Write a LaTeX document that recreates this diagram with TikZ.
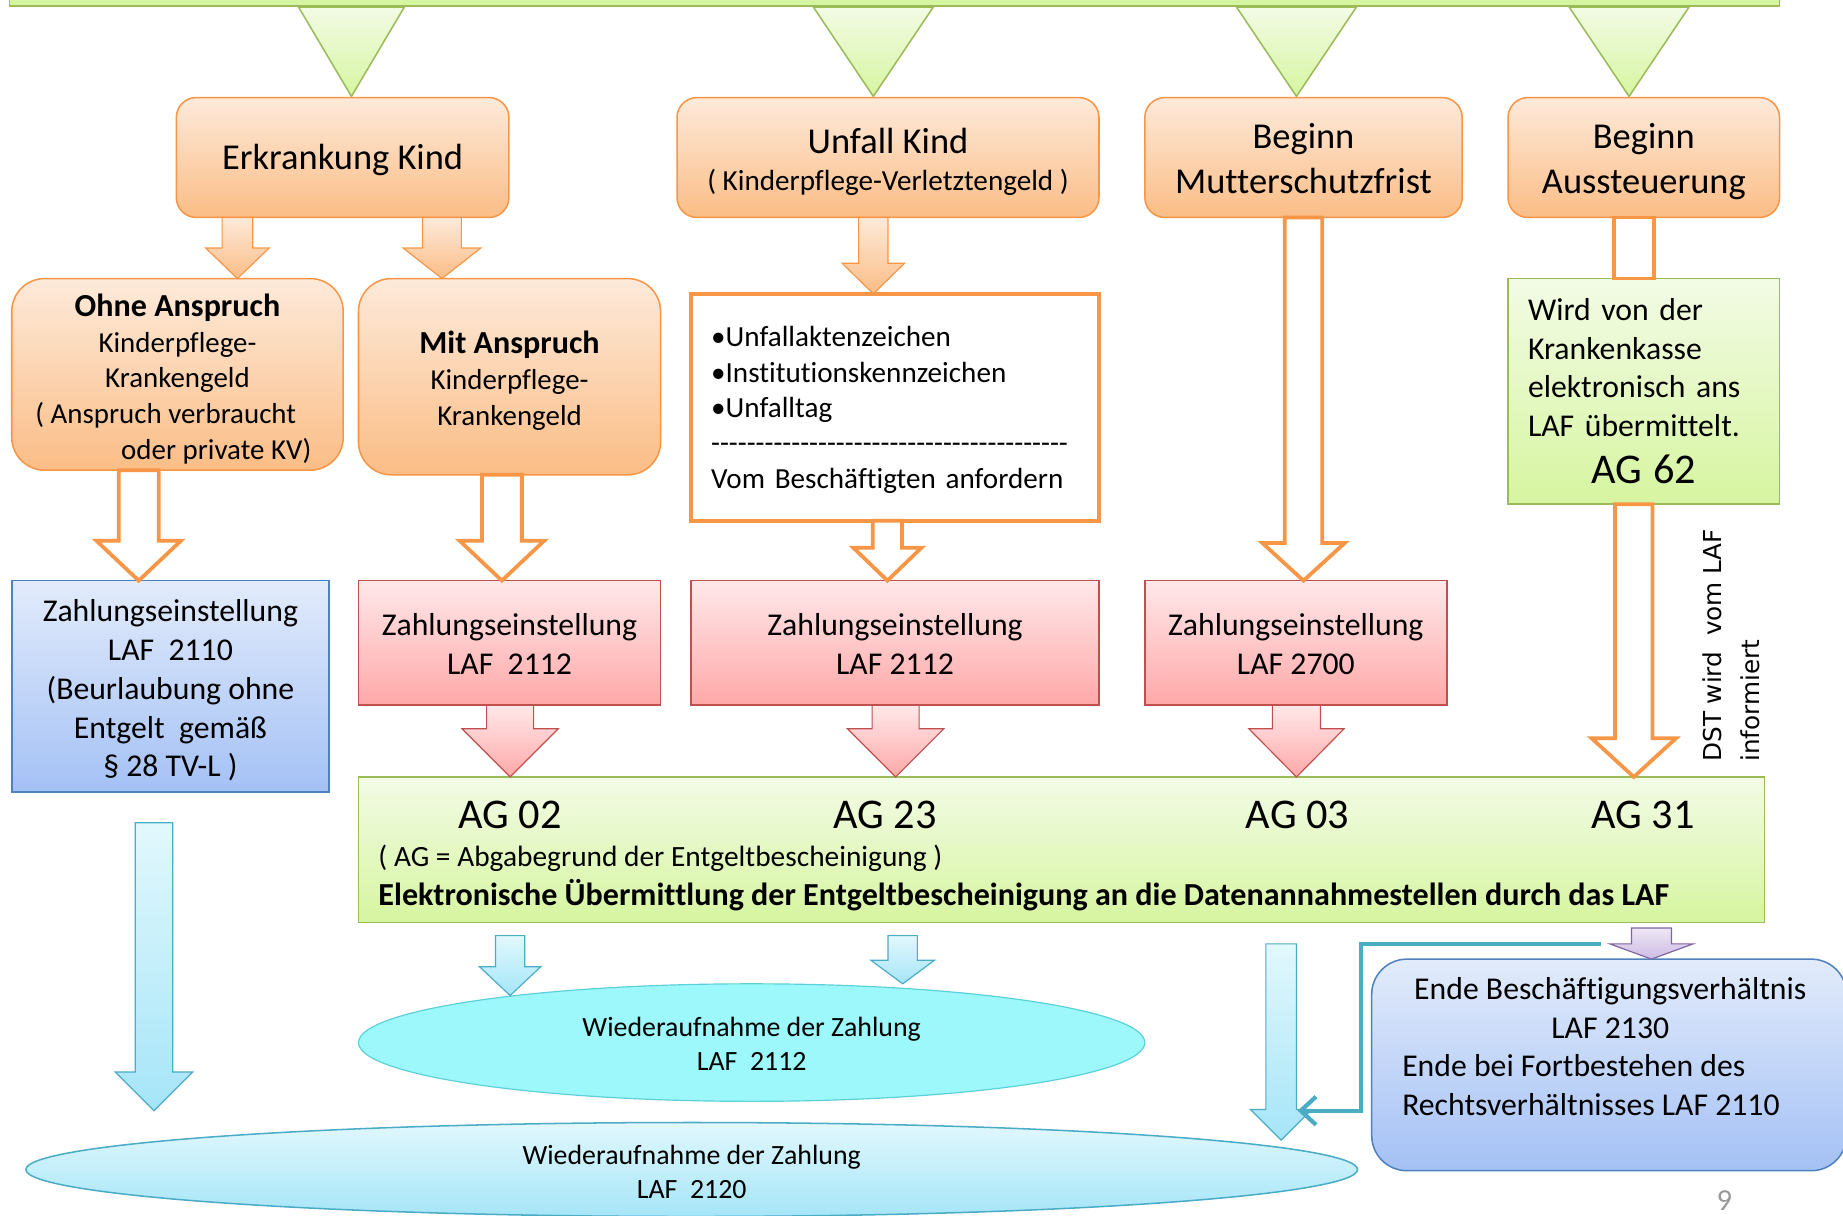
\documentclass[tikz,border=0pt]{standalone}
\usepackage{fontspec}
\setmainfont{Carlito}[Ligatures={NoCommon}]
\newfontfamily\dejavu{DejaVu Sans}
\usetikzlibrary{calc,shapes.geometric,arrows.meta,shadings}

\definecolor{orLine}{HTML}{F79646}
\definecolor{orTop}{HTML}{FDEADA}
\definecolor{orBot}{HTML}{FBBD86}
\definecolor{grLine}{HTML}{9BBB59}
\definecolor{grTop}{HTML}{F3FBE6}
\definecolor{grBot}{HTML}{D6F5A0}
\definecolor{rdLine}{HTML}{C0504D}
\definecolor{rdTop}{HTML}{FFE8EA}
\definecolor{rdBot}{HTML}{FFA8A8}
\definecolor{blLine}{HTML}{4F81BD}
\definecolor{blTop}{HTML}{E2EBFB}
\definecolor{blBot}{HTML}{A4C1F5}
\definecolor{cyLine}{HTML}{4BACC6}
\definecolor{cyTop}{HTML}{E2F8FD}
\definecolor{cyBot}{HTML}{A5E5F8}
\definecolor{cyFill}{HTML}{9CF8FA}
\definecolor{cyLine2}{HTML}{5CD0D8}
\definecolor{puLine}{HTML}{8064A2}
\definecolor{puTop}{HTML}{EEE7F6}
\definecolor{puBot}{HTML}{CDBBE3}

\newcommand\fs[2]{\fontsize{#1}{#2}\selectfont}
\newcommand\dashrule{\leavevmode\hbox to 311pt{\leaders\hbox{-}\hfill}}
% fixed first-line height and last-line depth (invisible struts)
\newcommand\topr[1]{\rule{0pt}{#1pt}}
\newcommand\botr[1]{\rule[-#1pt]{0pt}{#1pt}}

% block arrow pointing down: style, x, start, end, shaft half width, head half width, head length
\newcommand\blockarrow[7]{%
  \path[#1] let \p1=(#3), \p2=(#4) in
    ({#2pt-#5pt},\y1) -- ({#2pt+#5pt},\y1) -- ({#2pt+#5pt},{\y2+#7pt})
    -- ({#2pt+#6pt},{\y2+#7pt}) -- (#2pt,\y2) -- ({#2pt-#6pt},{\y2+#7pt})
    -- ({#2pt-#5pt},{\y2+#7pt}) -- cycle;}

\begin{document}
\begin{tikzpicture}[x=1pt,y=-1pt,
  every node/.style={inner sep=0pt, outer sep=0pt},
  orbox/.style={draw=orLine, line width=1.3pt, top color=orTop, bottom color=orBot,
    rounded corners=17pt, align=center, font=\fs{31}{38}},
  orbox2/.style={orbox, rounded corners=28pt, font=\fs{24.6}{30.5}},
  rdbox/.style={draw=rdLine, line width=1.3pt, top color=rdTop, bottom color=rdBot,
    align=center, font=\fs{27}{33}},
  blbox/.style={draw=blLine, line width=1.3pt, top color=blTop, bottom color=blBot,
    align=center, font=\fs{27}{33}},
  grbox/.style={draw=grLine, line width=1.3pt, top color=grTop, bottom color=grBot},
  orfill/.style={draw=orLine, line width=1pt, top color=orTop, bottom color=orBot},
  orhollow/.style={draw=orLine, line width=3.2pt, fill=white, line join=miter},
  rdfill/.style={draw=rdLine, line width=1pt, top color=rdTop, bottom color=rdBot},
  blfill/.style={draw=cyLine, line width=1pt, top color=cyTop, bottom color=cyBot},
  pufill/.style={draw=puLine, line width=1pt, top color=puTop, bottom color=puBot},
  grtri/.style={draw=grLine, line width=1.3pt, top color=grTop, bottom color=grBot, line join=round},
  tealcon/.style={draw=cyLine, line width=3.6pt, -{Straight Barb[length=13pt,width=24pt,line width=3.6pt]}},
  txt/.style={font=\fs{27}{33}}
]
\useasboundingbox (0,0) rectangle (1568,1034);

% top bar and triangles
\path[grtri] (254,6) -- (344,6) -- (299,82) -- cycle;
\path[grtri] (692,6) -- (794,6) -- (743,82) -- cycle;
\path[grtri] (1052,6) -- (1154,6) -- (1103,82) -- cycle;
\path[grtri] (1335,6) -- (1437,6) -- (1386,82) -- cycle;
\path[draw=grLine, line width=1.3pt, fill=grBot] (8,-30) rectangle (1514,5);

% first row
\node[orbox, minimum width=283pt, minimum height=102pt] (A) at (291.5,134)
  {\topr{29.7}\botr{9.3}Erkrankung Kind};
\node[orbox, minimum width=359pt, minimum height=102pt, font=\fs{31}{32}] (B) at (755.5,134)
  {\topr{31.8}Unfall Kind\\{\fontsize{24.8}{32}\selectfont( Kinderpflege-Verletztengeld )\botr{7.4}}};
\node[orbox, minimum width=270pt, minimum height=102pt] (C) at (1109,134)
  {\topr{31.7}Beginn\\Mutterschutzfrist\botr{9.3}};
\node[orbox, minimum width=231pt, minimum height=102pt] (D) at (1398.5,134)
  {\topr{31.7}Beginn\\Aussteuerung\botr{9.3}};

% second row
\node[orbox2, minimum width=282pt, minimum height=163pt] (E) at (151,318.5)
  {\topr{30.4}{\fontsize{27.3}{30.5}\selectfont\bfseries Ohne Anspruch}\\Kinderpflege-\\Krankengeld\\( Anspruch verbraucht\hspace{20pt}\mbox{}\\\hspace*{66pt}oder private KV)\botr{7.4}};
\node[orbox2, minimum width=257pt, minimum height=167pt] (F) at (433.5,320.5)
  {\topr{29.4}{\fontsize{27.3}{30.5}\selectfont\bfseries Mit Anspruch}\\Kinderpflege-\\Krankengeld\botr{7.4}};
\node[draw=orLine, line width=3.6pt, fill=white, minimum width=347pt, minimum height=193pt,
  text width=313pt, align=left, font=\fs{24.8}{30}] (G) at (761.5,346.5)
  {\topr{24.8}•Unfallaktenzeichen\\•Institutionskennzeichen\\•Unfalltag\\\dashrule\\Vom Beschäftigten anfordern\botr{7.4}};
\node[grbox, minimum width=231pt, minimum height=192pt, text width=197pt, align=left,
  font=\fs{27}{32.7}] (H) at (1398.5,333)
  {Wird von der\\Krankenkasse\\elektronisch ans\\LAF übermittelt.\\[8pt]\makebox[197pt][c]{\fs{36}{40}AG 62}};

% third row
\node[blbox, minimum width=270pt, minimum height=180pt] (I) at (145,584)
  {\topr{29.9}Zahlungseinstellung\\LAF~~2110\\(Beurlaubung ohne\\Entgelt~~gemäß\\§ 28 TV-L )\botr{8.1}};
\node[rdbox, minimum width=257pt, minimum height=106pt] (J) at (433.5,547)
  {\topr{28.9}Zahlungseinstellung\\LAF~~2112\botr{8.1}};
\node[rdbox, minimum width=347pt, minimum height=106pt] (K) at (761.5,547)
  {\topr{28.9}Zahlungseinstellung\\LAF 2112\botr{8.1}};
\node[rdbox, minimum width=257pt, minimum height=106pt] (L) at (1102.5,547)
  {\topr{28.9}Zahlungseinstellung\\LAF 2700\botr{8.1}};

% AG box
\node[grbox, minimum width=1196pt, minimum height=124pt] (AG) at (903,723) {};
\node[font=\fs{36}{40}] (ag02) at (434,693) {AG 02};
\node[font=\fs{36}{40}] (ag23) at (753,693) {AG 23};
\node[font=\fs{36}{40}] (ag03) at (1104,693) {AG 03};
\node[font=\fs{36}{40}] (ag31) at (1398,693) {AG 31};
\node[anchor=west, font=\fs{25}{30}] (agnote) at (322,730) {( AG = Abgabegrund der Entgeltbescheinigung )};
\node[anchor=west, font=\bfseries\fs{27.3}{30}] (agbold) at (322,762)
  {Elektronische Übermittlung der Entgeltbescheinigung an die Datenannahmestellen durch das LAF};

% rotated note
\node[rotate=90, anchor=west, align=left, font=\dejavu\fs{21}{32}] (dst) at (1473,648)
  {DST wird~ vom LAF\\informiert};

% ellipses
\node[ellipse, draw=cyLine2, line width=1pt, fill=cyFill, minimum width=669pt, minimum height=100pt,
  align=center, font=\fs{23.7}{29}] (E1) at (639.5,887)
  {\topr{25.7}Wiederaufnahme der Zahlung\\LAF~~2112\botr{7.1}};
\node[ellipse, draw=cyLine, line width=1.3pt, top color=cyTop, bottom color=cyBot, minimum width=1133pt,
  minimum height=80pt, align=center, font=\fs{23.7}{29}] (E2) at (588.5,995)
  {\topr{21}Wiederaufnahme der Zahlung\\LAF~~2120\botr{0.4}};

% blue rounded box
\node[draw=blLine, line width=1.3pt, top color=blTop, bottom color=blBot, rounded corners=30pt,
  minimum width=404pt, minimum height=180pt] (P) at (1369,906) {};
\node[txt] (p1) at (1370,843) {Ende Beschäftigungsverhältnis};
\node[txt] (p2) at (1370,875) {LAF 2130};
\node[txt, anchor=west] (p3) at (1193,907) {Ende bei Fortbestehen des};
\node[txt, anchor=west] (p4) at (1193,940) {Rechtsverhältnisses LAF 2110};

% page number
\node[text=black!40, font=\fs{26}{28}] (pg) at (1467,1021) {9};

% coordinates for arrow ends
\coordinate (e1a) at (434,847);
\coordinate (e1b) at (768,837);
\coordinate (e2a) at (1090,970);
\coordinate (tA) at (1362,803);
\coordinate (tB) at (1104,945);

% arrows
\blockarrow{orfill}{202}{A.south}{E.north}{13}{27}{26}
\blockarrow{orfill}{376}{A.south}{F.north}{16.5}{33}{26}
\blockarrow{orfill}{743}{B.south}{G.north}{12.5}{26.5}{26}
\blockarrow{orhollow}{1109}{C.south}{L.north}{16}{35}{32}
\path[orhollow] let \p1=(D.south), \p2=(H.north) in (1373pt,\y1) rectangle (1407pt,\y2);
\blockarrow{orhollow}{1390}{H.south}{AG.north}{16}{36}{33}
\blockarrow{orhollow}{118}{E.south}{I.north}{17}{36}{34}
\blockarrow{orhollow}{427}{F.south}{J.north}{17}{36}{34}
\blockarrow{orhollow}{755}{G.south}{K.north}{12.5}{29}{28}
\blockarrow{rdfill}{434}{J.south}{AG.north}{20}{41}{41}
\blockarrow{rdfill}{762}{K.south}{AG.north}{20}{41}{41}
\blockarrow{rdfill}{1103}{L.south}{AG.north}{20.5}{40.5}{41}
\blockarrow{blfill}{131}{[yshift=-26pt]I.south}{[yshift=10pt]E2.north}{16}{33}{33}
\blockarrow{blfill}{434}{[yshift=-11pt]AG.south}{e1a}{12.5}{26}{24.5}
\blockarrow{blfill}{768}{[yshift=-11pt]AG.south}{e1b}{12.5}{27}{20}
\blockarrow{blfill}{1090}{[yshift=-18pt]AG.south}{e2a}{13}{26}{26}
\blockarrow{pufill}{1405}{[yshift=-4.5pt]AG.south}{P.north}{17}{35.5}{13}

\draw[tealcon] (tA) -| (1158,945) -- (tB);
\end{tikzpicture}
\end{document}
